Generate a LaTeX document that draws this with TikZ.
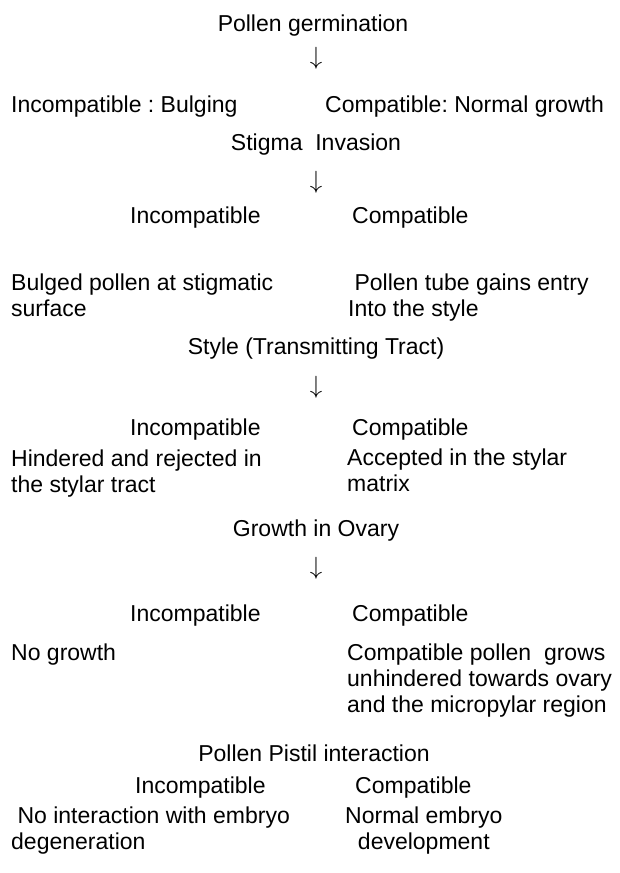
\documentclass[tikz,border=0pt]{standalone}
\usepackage{fontspec}
\setmainfont{Liberation Sans}
\usepackage{tikz}
\usepackage{xcolor}

\begin{document}
\frenchspacing
\begin{tikzpicture}[x=1pt, y=-1pt,
  every node/.style={font=\fontsize{23}{26}\selectfont, inner sep=0pt},
  stage/.style={anchor=center},
  branch/.style={anchor=west, align=left},
  down/.style={anchor=center, font=\fontsize{32}{34}\selectfont}]
  \useasboundingbox (0,0) rectangle (620,873);

  % Pollen germination
  \node[stage] (germ) at (313, 26) {Pollen germination};
  \node[down] (arrA) at (316, 58) {$\downarrow$};
  \node[branch] (germInc) at (11, 107) {Incompatible : Bulging};
  \node[branch] (germCom) at (325, 107) {Compatible: Normal growth};

  % Stigma invasion
  \node[stage] (stigma) at (316, 145) {Stigma\ \ Invasion};
  \node[down] (arrB) at (316, 182) {$\downarrow$};
  \node[branch] (stigInc) at (130, 218) {Incompatible};
  \node[branch] (stigCom) at (352, 218) {Compatible};
  \node[branch] (stigIncTxt) at (11, 295) {Bulged pollen at stigmatic\\surface};
  \node[branch] (stigComTxt) at (348, 298) {\ Pollen tube gains entry\\Into the style};

  % Style (transmitting tract)
  \node[stage] (style) at (316, 349) {Style (Transmitting Tract)};
  \node[down] (arrC) at (316, 387) {$\downarrow$};
  \node[branch] (styInc) at (130, 430) {Incompatible};
  \node[branch] (styCom) at (352, 430) {Compatible};
  \node[branch] (styIncTxt) at (11, 473.5) {Hindered and rejected in\\the stylar tract};
  \node[branch] (styComTxt) at (347, 470.5) {Accepted in the stylar\\matrix};

  % Growth in ovary
  \node[stage] (ovary) at (316, 531) {Growth in Ovary};
  \node[down] (arrD) at (316, 568) {$\downarrow$};
  \node[branch] (ovaInc) at (130, 616) {Incompatible};
  \node[branch] (ovaCom) at (352, 616) {Compatible};
  \node[branch, anchor=north west] (ovaIncTxt) at (11, 644) {No growth};
  \node[branch, anchor=north west] (ovaComTxt) at (347, 644) {Compatible pollen\ \ grows\\unhindered towards ovary\\and the micropylar region};

  % Pollen pistil interaction
  \node[stage] (pistil) at (314, 753) {Pollen Pistil interaction};
  \node[branch] (pisInc) at (135, 788) {Incompatible};
  \node[branch] (pisCom) at (355, 788) {Compatible};
  \node[branch] (pisIncTxt) at (11, 830.5) {\ No interaction with embryo\\degeneration};
  \node[branch] (pisComTxt) at (345, 830.5) {Normal embryo\\\ \ development};
\end{tikzpicture}
\end{document}
